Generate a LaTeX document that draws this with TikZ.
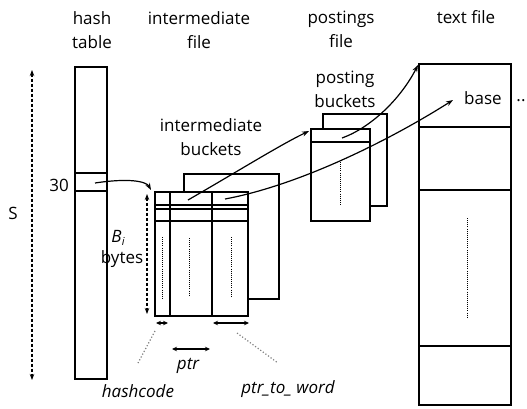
\documentclass[tikz,border=0pt]{standalone}
\usepackage{fontspec}
\setmainfont{Open Sans}
\usetikzlibrary{arrows.meta}
\begin{document}
\begin{tikzpicture}[x=1pt,y=-1pt,
  box/.style={draw, line width=1.5pt, fill=white, inner sep=0pt},
  rule/.style={line width=1.5pt},
  fill dots/.style={line width=0.8pt, dash pattern=on 0.8pt off 1.3pt},
  span/.style={line width=1.6pt, dash pattern=on 3pt off 2pt, {Stealth[length=6pt,width=4.5pt]}-{Stealth[length=6pt,width=4.5pt]}},
  width arrow/.style={line width=1.5pt, {Stealth[length=5pt,width=4.5pt]}-{Stealth[length=5pt,width=4.5pt]}},
  leader/.style={gray, line width=1.2pt, dash pattern=on 1.2pt off 2pt},
  link/.style={line width=1.2pt, -{Stealth[length=7pt,width=5pt]}},
  lbl/.style={inner sep=0pt, font=\fontsize{17}{24}\selectfont, align=center},
  ilbl/.style={lbl, font=\fontsize{17}{24}\selectfont\itshape}]
\useasboundingbox (0,0) rectangle (527,408);

% column headings
\node[lbl] (hhash) at (92,30) {hash\\table};
\node[lbl] (hinter) at (199,30) {intermediate\\file};
\node[lbl] (hpost) at (341,29) {postings\\file};
\node[lbl] (htext) at (466,17) {text file};

% hash table
\node[box, minimum width=32pt, minimum height=312pt] (hash) at (91,223) {};
\draw[rule] (75,173) -- (107,173);
\draw[rule] (75,191) -- (107,191);
\node[lbl] (n30) at (59,185) {30};
\coordinate (c30) at (95,183);

% table size S
\coordinate (stop) at (32,70);
\coordinate (sbot) at (32,380);
\draw[span] (stop) -- (sbot);
\node[lbl] (lS) at (13,213) {S};

% intermediate buckets
\node[lbl] (libk) at (211,137) {intermediate\\buckets};
\node[box, minimum width=95pt, minimum height=125pt] (ibback) at (231.5,236.5) {};
\node[box, minimum width=93pt, minimum height=124pt] (ibfront) at (201.5,254) {};
\draw[rule] (170,192) -- (170,316);
\draw[rule] (212,192) -- (212,316);
\draw[rule] (155,205) -- (248,205);
\draw[rule] (155,209) -- (248,209);
\draw[rule] (155,221) -- (248,221);
\draw[fill dots] (162,237) -- (162,298);
\draw[fill dots] (189,238) -- (189,296);
\draw[fill dots] (231,237) -- (231,297);
\coordinate (ibtip) at (151,190);
\coordinate (ibc2) at (188,200);
\coordinate (ibc3) at (225,199);

% bucket size B_i
\coordinate (btop) at (147,194);
\coordinate (bbot) at (147,314);
\draw[span] (btop) -- (bbot);
\node[lbl] (lB) at (118,238) {\itshape B\kern0.5pt\raisebox{-3pt}{\fontsize{11}{11}\selectfont i}};
\node[lbl] (lbytes) at (122,259) {bytes};

% field widths
\coordinate (hcl) at (156,323);
\coordinate (hcr) at (168,323);
\draw[width arrow] (hcl) -- (hcr);
\coordinate (pl) at (172,349);
\coordinate (pr) at (210,349);
\draw[width arrow] (pl) -- (pr);
\coordinate (pwl) at (213,323);
\coordinate (pwr) at (249,323);
\draw[width arrow] (pwl) -- (pwr);

\node[ilbl] (lhash) at (138,391) {hashcode};
\node[ilbl] (lptr) at (188,366) {ptr};
\node[ilbl] (lptw) at (288,389) {ptr\_to\_ word};
\coordinate (d1a) at (155,331);
\coordinate (d1b) at (138,363);
\draw[leader] (d1a) -- (d1b);
\coordinate (d2a) at (237,333);
\coordinate (d2b) at (278,363);
\draw[leader] (d2a) -- (d2b);

% posting buckets
\node[lbl] (lpbk) at (345,89) {posting\\buckets};
\node[box, minimum width=64pt, minimum height=92pt] (pback) at (355,160) {};
\node[box, minimum width=59pt, minimum height=92pt] (pfront) at (340.5,175) {};
\draw[rule] (311,142) -- (370,142);
\draw[fill dots] (340,162) -- (340,205);
\coordinate (ptip) at (309,131);
\coordinate (pc) at (342,138);

% text file
\node[box, minimum width=92pt, minimum height=341pt] (text) at (465,234.5) {};
\draw[rule] (419,127) -- (511,127);
\draw[rule] (419,190) -- (511,190);
\draw[rule] (419,346) -- (511,346);
\draw[fill dots] (467,218) -- (467,317);
\node[lbl] (lbase) at (483,98) {base};
\node[lbl] (ldots) at (521,101) {..};
\coordinate (ttip) at (418,65);
\coordinate (btip) at (453,100);

% pointers
\draw[link] (c30) .. controls (128,178) and (146,181) .. (ibtip);
\draw[link] (ibc2) .. controls (240,170) and (280,145) .. (ptip);
\draw[link] (ibc3) .. controls (300,185) and (390,140) .. (btip);
\draw[link] (pc) .. controls (370,128) and (400,100) .. (ttip);
\end{tikzpicture}
\end{document}
